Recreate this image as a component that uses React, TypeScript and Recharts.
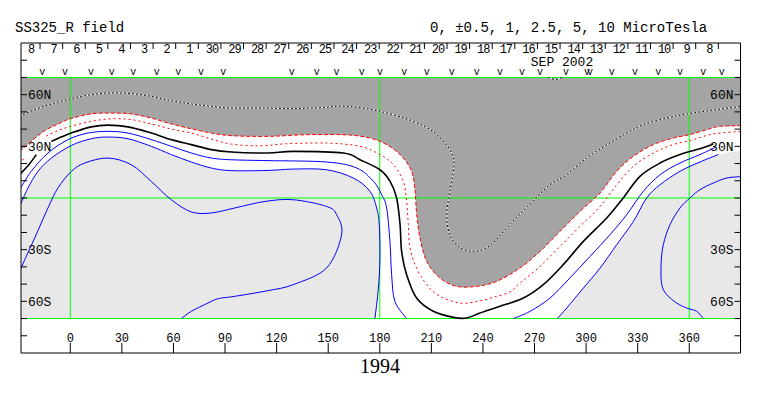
import React from 'react';
import { ComposedChart, Line, Area, XAxis, YAxis, Scatter } from 'recharts';

// ---------- axes / labels ----------
const LON_DOMAIN: [number, number] = [-28.67, 389.8];
const LAT_DOMAIN: [number, number] = [-90, 90];
const LON_TICKS = [0, 30, 60, 90, 120, 150, 180, 210, 240, 270, 300, 330, 360];
const LAT_TICKS = [-80, -70, -60, -50, -40, -30, -20, -10, 0, 10, 20, 30, 40, 50, 60, 70, 80];
const LAT_LABELS: Record<string, string> = { '60': '60N', '30': '30N', '-30': '30S', '-60': '60S' };
const DAY_LABELS = ['8', '7', '6', '5', '4', '3', '2', '1', '30', '29', '28', '27', '26', '25', '24', '23', '22', '21', '20', '19', '18', '17', '16', '15', '14', '13', '12', '11', '10', '9', '8'];
const DAY_SEPARATORS = [-17.6, -4.45, 8.7, 21.85, 35.0, 48.15, 61.3, 74.45, 87.6, 100.75, 113.9, 127.05, 140.2, 153.35, 166.5, 179.65, 192.8, 205.95, 219.1, 232.25, 245.4, 258.55, 271.7, 284.85, 298.0, 311.15, 324.3, 337.45, 350.6, 363.75, 376.9];
const V_MARK_LONS = [-16.3, -3.1, 12.0, 24.1, 36.6, 50.3, 62.8, 76.0, 89.0, 128.8, 143.3, 154.9, 169.5, 180.1, 194.3, 207.3, 221.8, 236.4, 249.9, 262.7, 273.2, 288.3, 300.5, 302.2, 314.9, 328.4, 342.0, 354.6, 368.2, 378.9];
const V_MARK_LAT = 72.3;
const GRID_LONS = [0, 180, 360];
const GRID_LATS = [70, 0, -70];
const DATA_TOP = 70;

// ---------- contours (lon, lat) ----------
const DOTTED_ZERO = [[-29.5, 47.4], [-20.7, 51.3], [-11, 54.6], [0.6, 57.7], [12.2, 60], [23.9, 61], [35.5, 60.6], [47.1, 59], [58.8, 56.5], [70.4, 54.6], [82, 53.2], [93.7, 52.2], [105.3, 52.2], [115, 52.2], [129.7, 51.9], [145, 52.5], [160.7, 53.2], [180.1, 50.3], [199.5, 44.5], [213.1, 36.8], [222.8, 23.2], [220.8, 3.9], [218.9, -10], [221, -22], [227, -29], [234.4, -31], [241, -29.5], [247, -25], [256, -15], [266, -5], [279, 7.7], [288.7, 13.5], [300.3, 23.2], [312, 30.9], [323.6, 37.7], [333.3, 42.6], [346.8, 46.4], [358.5, 48.8], [375.9, 51.3], [390.5, 53.2]];
const DOTTED_TOP = [[278, 70], [282, 68.8], [286, 70]];
const RED_OUTER = [[-29.5, 27], [-22, 33.5], [-15, 39], [-7, 43], [0, 46], [12.2, 48.9], [23.9, 49.3], [35.5, 48.8], [47.1, 46.4], [58.8, 43], [70.4, 40.2], [82, 37.7], [93.7, 36.2], [115, 35.8], [139.4, 36.8], [164.6, 36.4], [180.1, 32.9], [191.8, 25.2], [198.5, 15.5], [200.5, 3.9], [201.5, -9.7], [203.4, -23.2], [207.3, -36.8], [215, -46.5], [224.7, -51.3], [236.4, -51.3], [248, -48.4], [261.5, -40.7], [273.2, -31], [284.8, -19.4], [296.4, -7.8], [308.1, 2.9], [317.8, 15.5], [327.5, 24.2], [339.1, 31], [350.7, 34.8], [360.4, 36.8], [370.1, 39.7], [377.9, 41.6], [390.5, 42]];
const RED_INNER_A = [[-29.5, 19.5], [-26.5, 23.8]];
const RED_INNER_B = [[-14, 36], [-7, 39.2], [0, 41.5], [12.2, 44.5], [23.9, 46], [35.5, 45.5], [47.1, 43], [58.8, 40], [70.4, 37.7], [82, 34.2], [93.7, 31.3], [110.3, 30.3], [125.8, 31.5], [149.1, 31.9], [168.5, 30], [180.1, 25.2], [187.9, 19.4], [193.7, 9.7], [195.6, -1.9], [196.6, -15.5], [197.6, -29], [201.4, -40.7], [207.3, -50.3], [215, -57.1], [226.7, -61], [237, -60], [246, -57.7], [255.7, -54.5], [261.5, -49.4], [273.2, -39.7], [284.8, -28.1], [296.4, -16.5], [308.1, -4.9], [317.8, 7.7], [327.5, 18.4], [339.1, 26.1], [350.7, 31], [362.4, 33.9], [374, 37.2], [390.5, 38.7]];
const BLACK_A = [[-29.5, 13.5], [-24, 19.5], [-19.8, 25.1]];
const BLACK_B = [[-11, 32.9], [-5, 35.5], [0.6, 37.8], [12.2, 41.3], [21.9, 42.3], [33.6, 41.3], [47.1, 37.7], [58.8, 33.9], [70.4, 31], [82, 28.1], [93.7, 26.7], [115, 26.1], [129.7, 27.1], [158.8, 26.1], [168.5, 22.2], [180.1, 16.4], [186, 9.7], [189.8, 0], [191.8, -15.5], [192.7, -31], [195.6, -44.5], [201.4, -58.1], [211.1, -65.8], [222.8, -69.3], [230.5, -69.7], [238.3, -66.8], [249.9, -62.9], [263.5, -58.1], [275.1, -50.3], [286.7, -38.7], [298.4, -25.2], [312, -11.6], [321.6, 0], [331.3, 12.6], [343, 20.3], [354.6, 25.2], [366.2, 28.6], [374, 31.3]];
const BLUE1_A = [[-29.5, 4.8], [-22.7, 15.5], [-13, 26.1], [-1.3, 33.9], [10.3, 37.7], [21.9, 38.7], [33.6, 37.7], [47.1, 33.9], [58.8, 30], [70.4, 26.1], [82, 23.2], [93.7, 22.2], [115, 21.7], [149.1, 20.9], [166.6, 17.4], [176.3, 9.7], [181.1, 1.9], [184, -5.8], [185.9, -25.2], [186.9, -44.5], [188.8, -60], [195.6, -70]];
const BLUE1_B = [[257.7, -70], [267.4, -65.8], [279, -58.1], [290.6, -46.4], [302.3, -33.9], [313.9, -21.3], [323.6, -9.7], [333.3, 3.9], [343, 13.5], [354.6, 20.3], [366.2, 25.2], [375.5, 29.5]];
const BLUE2_A = [[-29.5, -4.9], [-24.6, 5.8], [-18.8, 15.5], [-11, 23.2], [0.6, 30.5], [12.2, 34.4], [21.9, 35.4], [33.6, 34.4], [47.1, 30], [58.8, 25.2], [70.4, 20.9], [82, 17.4], [93.7, 15.9], [115, 16], [129.7, 16.8], [149.1, 16.4], [164.6, 11.6], [174.3, 3.9], [178.2, -5.8], [179.7, -15.5], [180.1, -34.8], [179.2, -52.3], [177.2, -70]];
const BLUE2_B = [[283.3, -70], [288.7, -63.9], [298.4, -52.3], [308.1, -40.7], [317.8, -27.1], [327.5, -13.6], [335.2, 0], [343, 7.7], [354.6, 15.5], [366.2, 20.9], [376.9, 25.2]];
const BLUE3_LEFT = [[64.6, -70], [70.4, -65.8], [80.1, -61], [85.9, -58.5], [95.6, -57.1], [115, -53.8], [129.7, -50.3], [149.1, -40.6], [157.8, -21.3], [154.9, -9.7], [149.1, -4.9], [129.7, -1], [113.2, -2], [95.6, -5.8], [82, -8.7], [70.4, -8.1], [58.7, -1], [47.1, 9.6], [35.5, 19.3], [21.9, 23.2], [8.4, 20.3], [0.6, 15.4], [-7.2, 5.8], [-13, -5.8], [-20.7, -23.2], [-25.6, -33.9], [-29.5, -42.7]];
const BLUE3_RIGHT = [[391, 12.5], [381.8, 11.6], [374, 8.7], [366.2, 4.8], [360.4, 0], [354.6, -5.8], [348.8, -15.5], [344.9, -27.1], [343.6, -38.7], [344, -50.3], [346.9, -56.1], [352.7, -61], [358.5, -63.9], [364.3, -65.8], [368.2, -70]];
const LIGHT_EDGE_RIGHT = [[390.5, 27.5]];
const BOTTOM_EDGE = [[-29.5, -70], [390.5, -70]];

const toPts = (a: number[][]) => a.map(([lon, lat]) => ({ lon, lat }));
// repeat the two bottom corner points so the smooth curve keeps a sharp corner there
const WHITE_FILL = [
  ...BLUE2_A,
  BLUE2_A[BLUE2_A.length - 1],
  BLUE2_B[0],
  ...BLUE2_B,
  ...LIGHT_EDGE_RIGHT,
];

// Catmull-Rom curve factory (d3-curve interface) for smooth contour lines
function CatmullRom(this: any, context: any) {
  this._context = context;
}
CatmullRom.prototype = {
  areaStart() { this._line = 0; },
  areaEnd() { this._line = NaN; },
  lineStart() { this._pts = []; },
  lineEnd() {
    const p = this._pts;
    const c = this._context;
    if (p.length) {
      if (this._line) c.lineTo(p[0][0], p[0][1]);
      else c.moveTo(p[0][0], p[0][1]);
      if (p.length === 2) c.lineTo(p[1][0], p[1][1]);
      else if (p.length > 2) {
        for (let i = 0; i < p.length - 1; i++) {
          const p0 = p[i - 1] || p[i];
          const p1 = p[i];
          const p2 = p[i + 1];
          const p3 = p[i + 2] || p2;
          c.bezierCurveTo(
            p1[0] + (p2[0] - p0[0]) / 6, p1[1] + (p2[1] - p0[1]) / 6,
            p2[0] - (p3[0] - p1[0]) / 6, p2[1] - (p3[1] - p1[1]) / 6,
            p2[0], p2[1],
          );
        }
      }
    }
    if (this._line || (this._line !== 0 && p.length === 1)) c.closePath();
    this._line = 1 - this._line;
  },
  point(x: number, y: number) { this._pts.push([+x, +y]); },
};
const smooth: any = (ctx: any) => new (CatmullRom as any)(ctx);

const GRAY = '#a4a4a4';
const LIGHT = '#e8e8e8';
const GREEN = '#00ff00';
const MONO = 'Liberation Mono, Courier New, monospace';

const DayTick = (props: any) => {
  const { x, y, payload } = props;
  const i = DAY_SEPARATORS.indexOf(payload.value);
  return (
    <g>
      <line x1={x} y1={y} x2={x} y2={y + 6} stroke="#000" strokeWidth={1} />
      <text x={x - 9} y={y + 10} textAnchor="middle" fontSize={12} fontFamily={MONO} letterSpacing={-1} fill="#000">
        {DAY_LABELS[i]}
      </text>
    </g>
  );
};

const VMark = (props: any) => (
  <text x={props.cx} y={props.cy + 2} textAnchor="middle" fontSize={10} fontFamily={MONO} fill="#000">v</text>
);

const latFmt = (v: number) => LAT_LABELS[String(v)] ?? '';

export default function App() {
  const line = (key: string, data: number[][], stroke: string, width = 1, dash?: string, curve: any = smooth) => (
    <Line key={key} data={toPts(data)} dataKey="lat" type={curve} stroke={stroke} strokeWidth={width}
      strokeDasharray={dash} dot={false} activeDot={false} isAnimationActive={false} legendType="none" />
  );
  const area = (key: string, data: number[][], fill: string) => (
    <Area key={key} data={toPts(data)} dataKey="lat" type={smooth} stroke="none" fill={fill} fillOpacity={1}
      baseValue={DATA_TOP} dot={false} activeDot={false} isAnimationActive={false} legendType="none" />
  );
  return (
    <div style={{ position: 'absolute', left: 0, top: 0, width: 763, height: 396, background: '#fff' }}>
      <ComposedChart width={763} height={396} margin={{ top: 43, right: 22.5, bottom: 43, left: 21 }}
        style={{ fontFamily: MONO }}>
        <XAxis xAxisId={0} type="number" dataKey="lon" domain={LON_DOMAIN} allowDataOverflow ticks={LON_TICKS}
          orientation="bottom" mirror height={1} interval={0} tickSize={10} tickMargin={1} stroke="#000"
          tick={{ fill: '#000', fontSize: 12, fontFamily: MONO }} />
        <XAxis xAxisId="top" type="number" dataKey="lon" domain={LON_DOMAIN} allowDataOverflow ticks={DAY_SEPARATORS}
          orientation="top" mirror height={1} interval={0} tickSize={0} tickMargin={0} tickLine={false} stroke="#000"
          tick={(p: any) => <DayTick {...p} />} />
        <YAxis yAxisId={0} type="number" dataKey="lat" domain={LAT_DOMAIN} allowDataOverflow ticks={LAT_TICKS}
          orientation="left" mirror width={1} interval={0} tickSize={6} tickMargin={1} stroke="#000"
          tickFormatter={latFmt} tick={{ fill: '#000', fontSize: 13, fontFamily: MONO }} />
        <YAxis yAxisId="right" type="number" dataKey="lat" domain={LAT_DOMAIN} allowDataOverflow ticks={LAT_TICKS}
          orientation="right" mirror width={1} interval={0} tickSize={6} tickMargin={1} stroke="#000"
          tickFormatter={latFmt} tick={{ fill: '#000', fontSize: 13, fontFamily: MONO }} />

        {area('bg', BOTTOM_EDGE, LIGHT)}
        {area('white', WHITE_FILL, '#ffffff')}
        {area('gray', RED_OUTER, GRAY)}

        {GRID_LONS.map((lon) => line('gv' + lon, [[lon, -70], [lon, 70]], GREEN, 1, undefined, 'linear'))}
        {GRID_LATS.map((lat) => line('gh' + lat, [[-29.5, lat], [390.5, lat]], GREEN, 1, undefined, 'linear'))}

        {line('dz-w', DOTTED_ZERO, '#ffffff', 1)}
        {line('dz-k', DOTTED_ZERO, '#000000', 1, '2 2')}
        {line('dt-w', DOTTED_TOP, '#ffffff', 1)}
        {line('dt-k', DOTTED_TOP, '#000000', 1, '2 2')}
        {line('ro', RED_OUTER, '#ff0000', 1, '4 2')}
        {line('ria', RED_INNER_A, '#ff0000', 1, '2 3')}
        {line('rib', RED_INNER_B, '#ff0000', 1, '2 3')}
        {line('ka', BLACK_A, '#000000', 1.6)}
        {line('kb', BLACK_B, '#000000', 1.6)}
        {line('b1a', BLUE1_A, '#0000ff', 1)}
        {line('b1b', BLUE1_B, '#0000ff', 1)}
        {line('b2a', BLUE2_A, '#0000ff', 1)}
        {line('b2b', BLUE2_B, '#0000ff', 1)}
        {line('b3l', BLUE3_LEFT, '#0000ff', 1)}
        {line('b3r', BLUE3_RIGHT, '#0000ff', 1)}

        <Scatter xAxisId="top" yAxisId="right" data={V_MARK_LONS.map((lon) => ({ lon, lat: V_MARK_LAT }))}
          shape={(p: any) => <VMark {...p} />} isAnimationActive={false} legendType="none" />
      </ComposedChart>
      <svg width={763} height={396} style={{ position: 'absolute', left: 0, top: 0, pointerEvents: 'none' }}>
        <text x={15} y={32} fontFamily={MONO} fontSize={14} fill="#000">SS325_R field</text>
        <text x={430} y={32} fontFamily={MONO} fontSize={14} fill="#000">0, ±0.5, 1, 2.5, 5, 10 MicroTesla</text>
        <text x={562} y={66} textAnchor="middle" fontFamily={MONO} fontSize={13} fill="#000">SEP 2002</text>
        <text x={380} y={373} textAnchor="middle" fontFamily="Liberation Serif, serif" fontSize={20} fill="#000">1994</text>
      </svg>
    </div>
  );
}
